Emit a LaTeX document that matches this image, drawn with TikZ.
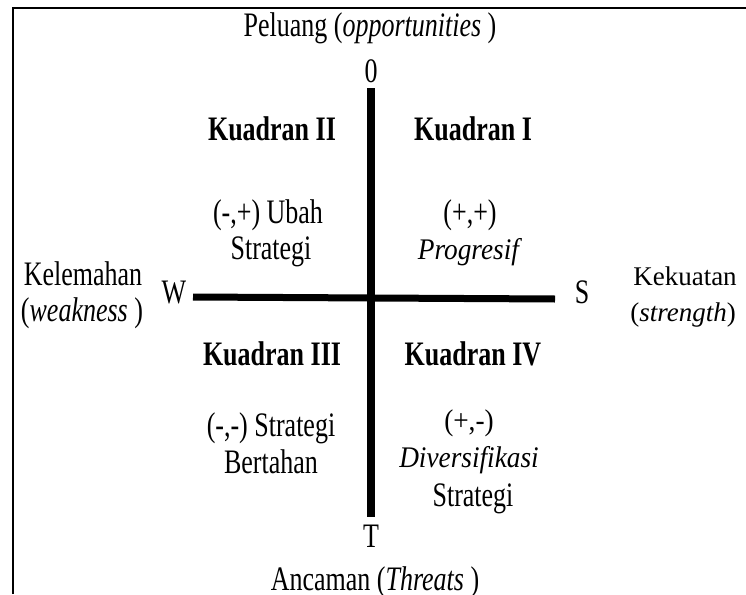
\documentclass[tikz,border=0pt]{standalone}
\usepackage{fontspec}
\setmainfont{Liberation Serif}
\newcommand\vstr[1]{\scalebox{1}[1.32]{#1}}
\newcommand\istr[1]{\scalebox{1.05}[1.15]{#1}}
\begin{document}
\begin{tikzpicture}[x=1pt,y=-1pt,
  lbl/.style={anchor=base,inner sep=0pt,outer sep=0pt,font=\fontsize{26}{37}\selectfont},
  hd/.style={lbl,font=\fontsize{26}{37}\selectfont\bfseries},
  side/.style={lbl,font=\fontsize{27}{37}\selectfont},
  axis/.style={line width=8pt,black},
  frame/.style={line width=2.5pt,black}]
\useasboundingbox (0,0) rectangle (746,594);
% frame
\coordinate (fl) at (13,594);
\coordinate (fc) at (13,8);
\coordinate (fr) at (746,8);
\draw[frame] (fl) -- (fc) -- (fr);
% axes
\coordinate (top) at (371,88);
\coordinate (bot) at (371,517);
\coordinate (lft) at (193,297);
\coordinate (rgt) at (555,299);
\draw[axis] (top) -- (bot);
\draw[axis,line width=7pt] (lft) -- (rgt);
% axis labels
\node[lbl] (pel) at (370,37) {\vstr{Peluang (\textit{opportunities} )}};
\node[lbl] (zero) at (371,82) {\vstr{0}};
\node[lbl] (t) at (371,547) {\vstr{T}};
\node[lbl] (anc) at (375,590) {\vstr{Ancaman (\textit{Threats} )}};
\node[lbl] (w) at (174,303) {\vstr{W}};
\node[lbl] (s) at (582,303) {\vstr{S}};
\node[lbl] (kel) at (83,285) {\vstr{Kelemahan}};
\node[lbl] (weak) at (82,321) {\vstr{(\textit{weakness} )}};
\node[side] (kek) at (685,285) {Kekuatan};
\node[side] (str) at (683,321) {(\textit{strength})};
% quadrants
\node[hd] (q2) at (272,140) {\vstr{Kuadran II}};
\node[hd] (q1) at (473,140) {\vstr{Kuadran I}};
\node[hd] (q3) at (272,365) {\vstr{Kuadran III}};
\node[hd] (q4) at (473,365) {\vstr{Kuadran IV}};
\node[lbl] (q2a) at (268,223) {\vstr{(-,+) Ubah}};
\node[lbl] (q2b) at (271,259) {\vstr{Strategi}};
\node[lbl] (q1a) at (470,223) {\vstr{(+,+)}};
\node[lbl] (q1b) at (470,259) {\istr{\textit{Progresif}}};
\node[lbl] (q3a) at (271,436) {\vstr{(-,-) Strategi}};
\node[lbl] (q3b) at (271,473) {\vstr{Bertahan}};
\node[lbl] (q4a) at (469,430) {\istr{(+,-)}};
\node[lbl] (q4b) at (469,467) {\istr{\textit{Diversifikasi}}};
\node[lbl] (q4c) at (473,506) {\vstr{Strategi}};
\end{tikzpicture}
\end{document}
